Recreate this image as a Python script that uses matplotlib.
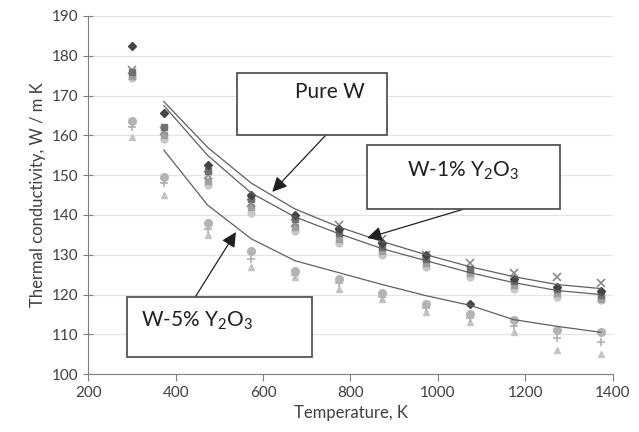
#! /usr/bin/env python3
# Thermal conductivity of W and W-Y2O3 vs temperature

import matplotlib.pyplot as plt
from matplotlib.patches import Rectangle

plt.rcParams['font.family'] = ['Lato', 'DejaVu Sans']

# measured points
temp = [300, 373, 473, 573, 673, 773, 873, 973, 1073, 1173, 1273, 1373]
k_diamond = [182.5, 165.5, 152.5, 145, 140, 136.5, 133, 130, 117.5, 124, 122, 121]
k_square = [176, 162, 151, 144, 139, 135.5, 132, 129, 126.5, 123.5, 121.5, 120]
k_cross = [176.5, 161, 150, 143, 138, 137.5, 134, 130, 128, 125.5, 124.5, 123]
k_square2 = [175, 160, 148.5, 142, 137, 134, 131, 128, 125.5, 122.5, 120.5, 119]
k_circle_hi = [174.5, 159, 147.5, 140.5, 136, 133, 130, 127, 124.5, 121.5, 119.5, 118.5]
k_circle = [163.5, 149.5, 138, 131, 126, 124, 120.5, 117.5, 115, 113.5, 111, 110.5]
k_plus = [162, 148, 136.5, 129, 125, 123, 119.5, 116.5, 114, 112, 109, 108]
k_triangle = [159.5, 145, 135, 127, 124.5, 121.5, 119, 115.5, 113, 110.5, 106, 105]

# calculated curves
temp_calc = [373, 473, 573, 673, 773, 873, 973, 1073, 1173, 1273, 1373]
calc_pure = [168.5, 157, 148, 141.5, 137, 133.3, 130, 127, 124.5, 122.5, 121.5]
calc_1pct = [167.5, 155, 145.5, 139.5, 135.3, 131.5, 128.5, 125.5, 123, 121, 120]
calc_5pct = [156.3, 142.5, 134, 128.5, 125.5, 122.5, 119.7, 117.3, 113.7, 112, 110.5]

fig = plt.figure(figsize=(6.39, 4.32), dpi=100)
ax = fig.add_axes([0.138, 0.134, 0.821, 0.829])

# light markers first, dark on top
ax.plot(temp, k_triangle, '^', color='#c4c4c4', ms=5, ls='none')
ax.plot(temp, k_plus, '+', color='#b0b0b0', ms=6, mew=1.2, ls='none')
ax.plot(temp, k_circle, 'o', color='#b4b4b4', ms=5.5, ls='none')
ax.plot(temp, k_circle_hi, 'o', color='#c8c8c8', ms=5, ls='none')
ax.plot(temp, k_square2, 's', color='#a0a0a0', ms=4.5, ls='none')
ax.plot(temp, k_cross, 'x', color='#8a8a8a', ms=6, mew=1.2, ls='none')
ax.plot(temp, k_square, 's', color='#707070', ms=4.5, ls='none')
ax.plot(temp, k_diamond, 'D', color='#454545', ms=4, ls='none')

for k in (calc_pure, calc_1pct, calc_5pct):
    ax.plot(temp_calc, k, color='#606060', lw=0.9)

ax.set_xlim(200, 1400)
ax.set_ylim(100, 190)
ax.set_xticks(range(200, 1401, 200))
ax.set_yticks(range(100, 191, 10))
ax.grid(axis='y', color='#e4e4e4', lw=0.9)
ax.set_axisbelow(True)
for s in ('top', 'right'):
    ax.spines[s].set_visible(False)
for s in ('left', 'bottom'):
    ax.spines[s].set_color('#808080')
ax.tick_params(colors='#808080', labelcolor='#404040', labelsize=11, length=5)
ax.tick_params(axis='y', direction='inout', length=7)
ax.set_xlabel('Temperature, K', fontsize=12, color='#404040')
ax.set_ylabel('Thermal conductivity, W / m K', fontsize=12, color='#404040')

# labelled boxes with arrows
sub2 = r'$_\mathregular{2}$'
sub3 = r'$_\mathregular{3}$'
boxes = [
    ('Pure W', (541, 160.1), 342, 15.6, (753, 171.0), (744, 160.1), (621, 145.8)),
    ('W-1% Y' + sub2 + 'O' + sub3, (837, 141.4), 442, 16.2,
     (1057, 151.0), (1057, 141.4), (838, 134.2)),
    ('W-5% Y' + sub2 + 'O' + sub3, (289, 104.3), 423, 15.1,
     (449, 113.3), (445, 119.4), (538, 135.7)),
]
for txt, xy, w, h, txy, base, tip in boxes:
    ax.annotate('', xy=tip, xytext=base,
                arrowprops=dict(arrowstyle='-|>', color='#202020', lw=0.9,
                                mutation_scale=22, shrinkA=0, shrinkB=0),
                zorder=4)
    ax.add_patch(Rectangle(xy, w, h, facecolor='white', edgecolor='#555555',
                           lw=1.3, zorder=5))
    ax.text(txy[0], txy[1], txt, fontsize=15, ha='center', va='center',
            color='#202020', zorder=6)

fig.savefig('out.png', dpi=100)
